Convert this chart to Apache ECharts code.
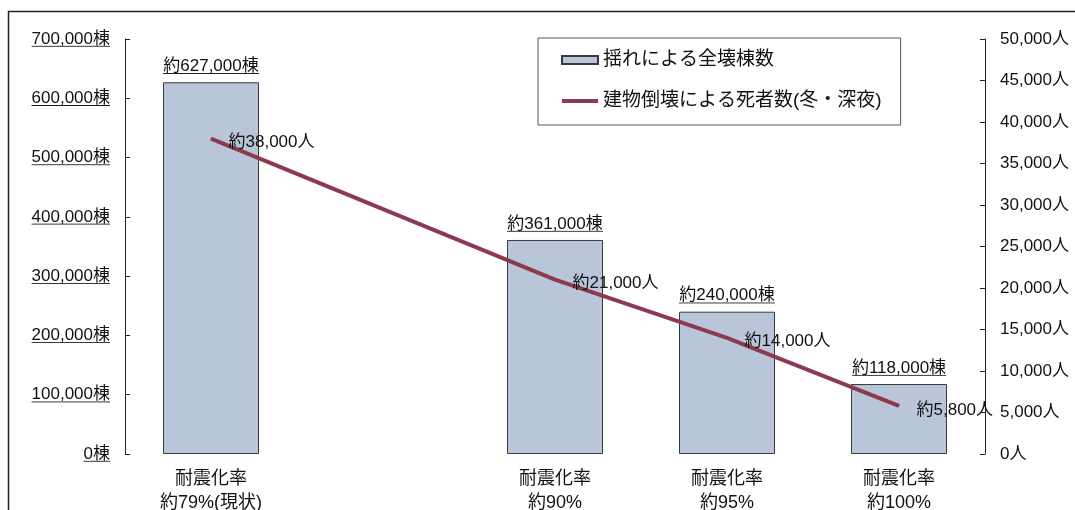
<!DOCTYPE html>
<html>
<head>
<meta charset="utf-8">
<script src="https://cdn.jsdelivr.net/npm/echarts@6/dist/echarts.min.js"></script>
<style>
  html, body { margin: 0; padding: 0; background: #fff; }
  #chart { width: 1075px; height: 510px; }
</style>
</head>
<body>
<div id="chart"></div>
<script>
// Categories (second slot left empty to space the bars like the original layout)
const categories = ['耐震化率\n約79%(現状)', '', '耐震化率\n約90%', '耐震化率\n約95%', '耐震化率\n約100%'];
// Buildings totally destroyed by shaking
const collapsedBuildings = [627000, '-', 361000, 240000, 118000];
// Deaths from building collapse (winter, late night)
const deaths = [38000, '-', 21000, 14000, 5800];
const barName = '揺れによる全壊棟数';
const lineName = '建物倒壊による死者数(冬・深夜)';

const FONT = '"Liberation Sans", "Noto Sans CJK JP", sans-serif';
const LINE_COLOR = '#8c3a4f';

function fmt(v) {
  return String(v).replace(/\B(?=(\d{3})+(?!\d))/g, ',');
}

// A small canvas used as a stretched background to draw an underline under text
function underlineImage(h) {
  const c = document.createElement('canvas');
  c.width = 4; c.height = h;
  const ctx = c.getContext('2d');
  ctx.fillStyle = '#111';
  ctx.fillRect(0, h - 2, 4, 1);
  return c;
}
const uImg = underlineImage(20);
const underlineRich = {
  u: {
    fontSize: 17, lineHeight: 20, color: '#111', fontFamily: FONT,
    backgroundColor: { image: uImg }
  }
};

const chart = echarts.init(document.getElementById('chart'));
chart.setOption({
  backgroundColor: '#fff',
  animation: false,
  textStyle: { fontFamily: FONT },
  graphic: [{
    type: 'rect',
    shape: { x: 8.5, y: 11.5, width: 1100, height: 600 },
    style: { fill: 'none', stroke: '#222', lineWidth: 1.5 },
    silent: true
  }],
  legend: {
    orient: 'vertical',
    left: 538,
    top: 38,
    padding: [11, 19, 13, 23],
    itemGap: 19,
    itemWidth: 36,
    itemHeight: 8,
    borderColor: '#555',
    borderWidth: 1,
    textStyle: { fontFamily: FONT, fontSize: 19, lineHeight: 22, color: '#111' },
    data: [
      { name: barName, icon: 'rect' },
      { name: lineName, icon: 'path://M0,0L36,0L36,4L0,4Z', itemStyle: { color: LINE_COLOR, borderWidth: 0 } }
    ]
  },
  grid: { left: 125, right: 90, top: 39, bottom: 56, containLabel: false, outerBoundsMode: 'none' },
  xAxis: {
    type: 'category',
    data: categories,
    axisLine: { show: false },
    axisTick: { show: false },
    axisLabel: {
      interval: 0,
      margin: 13,
      fontSize: 18,
      lineHeight: 24,
      color: '#111',
      fontFamily: FONT
    }
  },
  yAxis: [{
    type: 'value',
    min: 0,
    max: 700000,
    interval: 100000,
    splitLine: { show: false },
    axisLine: { show: true, lineStyle: { color: '#222', width: 1 } },
    axisTick: { show: true, inside: true, length: 5, lineStyle: { color: '#222' } },
    axisLabel: {
      margin: 15,
      color: '#111',
      formatter: v => '{u|' + fmt(v) + '棟}',
      rich: underlineRich
    }
  }, {
    type: 'value',
    min: 0,
    max: 50000,
    interval: 5000,
    position: 'right',
    splitLine: { show: false },
    axisLine: { show: true, lineStyle: { color: '#222', width: 1 } },
    axisTick: { show: true, inside: true, length: 5, lineStyle: { color: '#222' } },
    axisLabel: {
      margin: 15,
      fontSize: 17,
      color: '#111',
      fontFamily: FONT,
      formatter: v => fmt(v) + '人'
    }
  }],
  series: [{
    name: barName,
    type: 'bar',
    data: collapsedBuildings,
    barWidth: 96,
    itemStyle: { color: '#b9c5d8', borderColor: '#3a3a3a', borderWidth: 1 },
    label: {
      show: true,
      position: 'top',
      distance: 6,
      formatter: p => '{u|約' + fmt(p.value) + '棟}',
      rich: underlineRich
    }
  }, {
    name: lineName,
    type: 'line',
    yAxisIndex: 1,
    data: deaths,
    connectNulls: true,
    symbol: 'circle',
    symbolSize: 1,
    showSymbol: true,
    lineStyle: { color: LINE_COLOR, width: 4 },
    itemStyle: { color: LINE_COLOR },
    label: {
      show: true,
      position: 'right',
      distance: 17,
      offset: [0, 4],
      fontSize: 17,
      color: '#111',
      fontFamily: FONT,
      formatter: p => '約' + fmt(p.value) + '人'
    },
    z: 3
  }]
});
</script>
</body>
</html>
